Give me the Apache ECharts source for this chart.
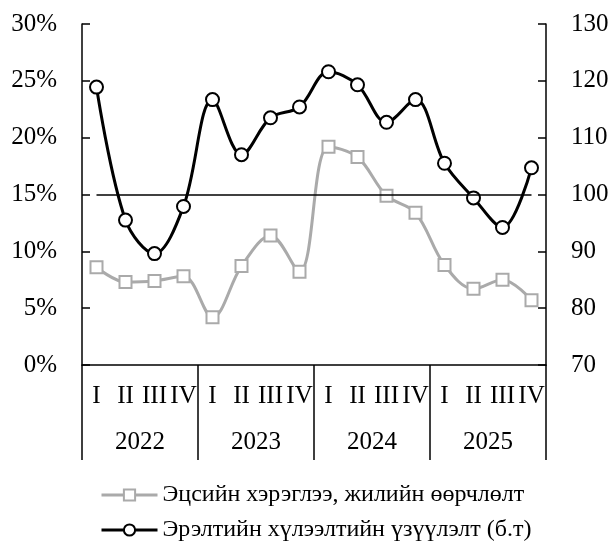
<!DOCTYPE html>
<html><head><meta charset="utf-8">
<script src="https://cdn.jsdelivr.net/npm/echarts@6/dist/echarts.min.js"></script>
<style>html,body{margin:0;padding:0;background:#fff}#c{width:613px;height:552px}</style>
</head><body><div id="c"></div>
<script>
const quarters = ['I','II','III','IV','I','II','III','IV','I','II','III','IV','I','II','III','IV'];
const years = ['2022','2023','2024','2025'];
const consumption = [8.6,7.3,7.4,7.8,4.2,8.7,11.4,8.2,19.2,18.3,14.9,13.4,8.8,6.7,7.5,5.7];
const expectation = [118.9,95.5,89.6,97.9,116.7,107.0,113.5,115.4,121.6,119.3,112.7,116.7,105.5,99.4,94.2,104.7];
const leftTicks = [0,5,10,15,20,25,30];
const rightTicks = [70,80,90,100,110,120,130];
const refLevel = 15;
const names = ['Эцсийн хэрэглээ, жилийн өөрчлөлт','Эрэлтийн хүлээлтийн үзүүлэлт (б.т)'];

const F = 'Liberation Serif, Times New Roman, serif';
const chart = echarts.init(document.getElementById('c'));
chart.setOption({
  animation:false,
  textStyle:{fontFamily:F},
  grid:{left:82,right:67,top:24,bottom:187,containLabel:false},
  legend:{
    orient:'vertical', left:95, top:478, itemWidth:56, itemHeight:14, itemGap:11,
    lineStyle:{width:3},
    textStyle:{fontFamily:F,fontSize:24,color:'#000'},
    data:names
  },
  xAxis:[
    {type:'category',data:quarters,boundaryGap:true,position:'bottom',
     axisLine:{show:true,lineStyle:{color:'#000',width:1.5}},
     axisTick:{show:false},
     axisLabel:{interval:0,color:'#000',fontFamily:F,fontSize:25,margin:19}},
    {type:'category',data:years,boundaryGap:true,position:'bottom',
     axisLine:{show:false},
     axisTick:{show:true,length:95,lineStyle:{color:'#000',width:1.5}},
     axisLabel:{color:'#000',fontFamily:F,fontSize:25,margin:65}}
  ],
  yAxis:[
    {type:'value',min:0,max:30,interval:5,position:'left',
     axisLine:{show:true,lineStyle:{color:'#000',width:1.5}},
     axisTick:{show:true,inside:true,length:8,lineStyle:{color:'#000',width:1.5}},
     splitLine:{show:false},
     axisLabel:{formatter:v=>leftTicks.includes(v)?v+'%':'',color:'#000',fontFamily:F,fontSize:25,margin:25}},
    {type:'value',min:70,max:130,interval:10,position:'right',
     axisLine:{show:true,lineStyle:{color:'#000',width:1.5}},
     axisTick:{show:true,inside:true,length:8,lineStyle:{color:'#000',width:1.5}},
     splitLine:{show:false},
     axisLabel:{formatter:v=>rightTicks.includes(v)?String(v):'',color:'#000',fontFamily:F,fontSize:25,margin:25}}
  ],
  series:[
    {name:names[0],type:'line',xAxisIndex:0,yAxisIndex:0,data:consumption,smooth:0.35,
     symbol:'rect',symbolSize:12,showAllSymbol:true,
     lineStyle:{color:'#aaaaaa',width:3},
     itemStyle:{color:'#fff',borderColor:'#aaaaaa',borderWidth:2},
     markLine:{silent:true,symbol:'none',label:{show:false},
       lineStyle:{color:'#000',width:1.5,type:'solid'},
       data:[[{coord:[0,refLevel]},{coord:[15,refLevel]}]]},
     z:2},
    {name:names[1],type:'line',xAxisIndex:0,yAxisIndex:1,data:expectation,smooth:0.35,
     symbol:'circle',symbolSize:13,showAllSymbol:true,
     lineStyle:{color:'#000',width:3},
     itemStyle:{color:'#fff',borderColor:'#000',borderWidth:2},
     z:3}
  ]
});
</script></body></html>
